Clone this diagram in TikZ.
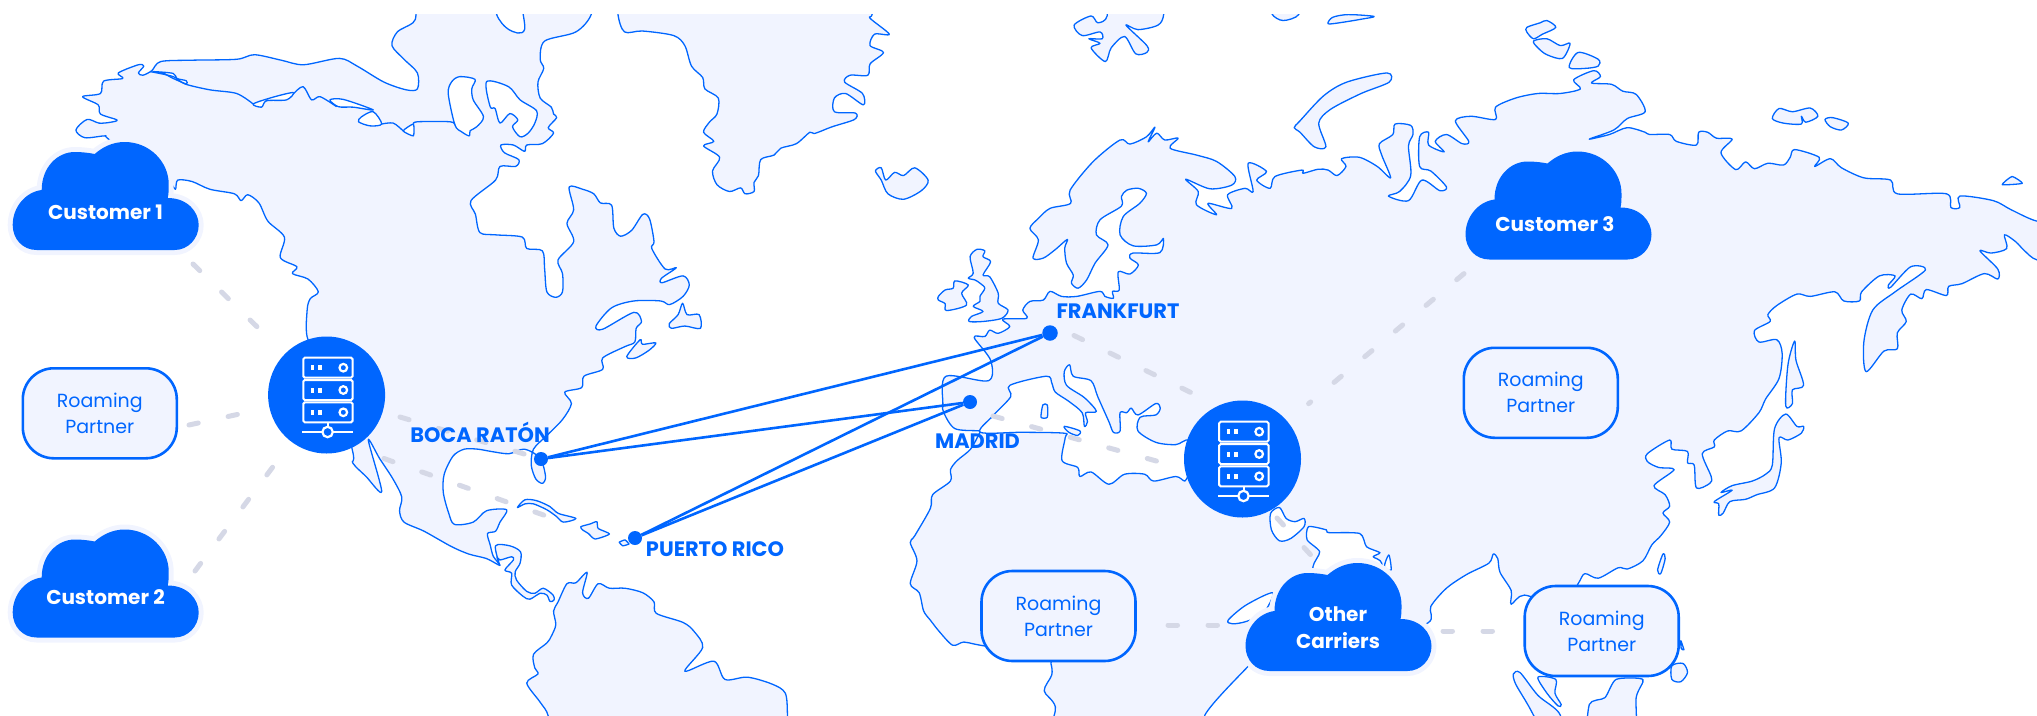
\documentclass[tikz,border=0pt]{standalone}
\usepackage{xcolor}
\usepackage{fontspec}
\usepackage{tikz}
\usetikzlibrary{backgrounds}
\setmainfont{Poppins}
\definecolor{azul}{HTML}{0066FF}
\definecolor{tierra}{HTML}{F1F4FF}
\definecolor{gris}{HTML}{D5D8E6}
\tikzset{
  costa/.style={draw=azul,line width=1.3pt,fill=tierra,line join=round},
  lago/.style={draw=azul,line width=1.3pt,fill=white,line join=round},
  orilla/.style={draw=azul,line width=1.3pt,line join=round},
  enlace/.style={draw=gris,line width=5pt,line cap=round,dash pattern=on 9.5pt off 30.5pt},
  ruta/.style={draw=azul,line width=2.6pt},
  punto/.style={circle,fill=azul,inner sep=0pt,minimum size=14pt},
  ciudad/.style={text=azul,font=\fontsize{20.9}{25}\selectfont\bfseries,inner sep=0pt},
  socio/.style={draw=azul,line width=2.6pt,fill=tierra,rounded corners=31pt,minimum width=154pt,minimum height=90pt,
    align=center,text=azul,inner sep=0pt,font=\fontsize{19}{26}\selectfont},
  nubetxt/.style={align=center,text=white,inner sep=0pt,font=\fontsize{20}{27}\selectfont\bfseries},
  centro/.style={circle,fill=azul,inner sep=0pt,minimum size=117pt},
  nube/.pic={
    \path[fill=azul,preaction={draw=tierra,line width=10pt}]
      (24,108) .. controls (10,108) and (0,97) .. (0,83) .. controls (0,65) and (13,50) .. (29,48)
      .. controls (29,25) and (45,10) .. (62,10) .. controls (70,10) and (77,11) .. (82,12)
      .. controls (90,5) and (100,0) .. (112,0) .. controls (137,0) and (156,20) .. (156,42)
      .. controls (156,48) and (156,52) .. (155,56) .. controls (175,56) and (186,70) .. (186,83)
      .. controls (186,97) and (175,108) .. (162,108) -- cycle;
  },
  servidor/.pic={
    \foreach \y in {-37.3,-15,7.3}{
      \draw[white,line width=2pt,rounded corners=1.5pt] (-23.3,\y) rectangle (26,\y+20);
      \fill[white] (-16,\y+7.5) rectangle (-12.5,\y+12.5);
      \fill[white] (-8.5,\y+7.5) rectangle (-5,\y+12.5);
      \draw[white,line width=2.2pt] (16.7,\y+10) circle (3.8);
    }
    \draw[white,line width=2pt] (1,27.3) -- (1,32);
    \draw[white,line width=2.2pt] (-24.3,36.7) -- (26.7,36.7);
    \draw[white,line width=2.2pt,fill=azul] (1,37) circle (5.2);
  }
}

\begin{document}
\begin{tikzpicture}[x=1pt,y=-1pt]
\useasboundingbox (0,0) rectangle (2037,715);
%Hubs and dots
\node[centro] (hub1) at (326.6,395) {};
\node[centro] (hub2) at (1242.5,459) {};
\pic at (hub1) {servidor};
\pic at (hub2) {servidor};
\node[punto] (boca) at (541,459) {};
\node[punto] (rico) at (635,538) {};
\node[punto,minimum size=15.5pt] (frankfurt) at (1050,333) {};
\node[punto] (madrid) at (970,402) {};
%Clouds
\pic at (12.7,142) {nube};
\pic at (12.7,529.5) {nube};
\pic at (1465.5,151.5) {nube};
\pic at (1245.5,563) {nube};
\node[nubetxt] (cust1) at (105.5,212) {Customer 1};
\node[nubetxt] (cust2) at (105.5,597) {Customer 2};
\node[nubetxt] (cust3) at (1555,224) {Customer 3};
\node[nubetxt] (carriers) at (1338,627.5) {Other\\Carriers};
%Roaming boxes
\node[socio] (roam1) at (99.8,413.3) {Roaming\\Partner};
\node[socio] (roam2) at (1540.8,392.8) {Roaming\\Partner};
\node[socio] (roam3) at (1058.5,616) {Roaming\\Partner};
\node[socio] (roam4) at (1601.7,631) {Roaming\\Partner};
%Routes
\draw[ruta] (boca) -- (frankfurt);
\draw[ruta] (boca) -- (madrid);
\draw[ruta] (rico) -- (frankfurt);
\draw[ruta] (rico) -- (madrid);
%Text
\node[ciudad] (lboca) at (480,432) {BOCA RATÓN};
\node[ciudad] (lrico) at (715,549.5) {PUERTO RICO};
\node[ciudad] (lfrank) at (1118,311.5) {FRANKFURT};
\node[ciudad] (lmadrid) at (977.5,441) {MADRID};
%Map
\begin{scope}[on background layer,x=0.44643pt,y=-0.45600pt]
\clip (0,30.7) rectangle (4563,1568);
%North America
\draw[costa] plot[smooth cycle,tension=.5] coordinates {(243,305) (235,298) (190,302) (170,285) (195,262) (222,270) (248,268) (262,263) (225,250) (220,230) (185,212) (225,205) (232,178) (275,172) (265,160) (310,142) (322,145) (310,160) (320,165) (340,155) (360,135) (430,132) (530,130) (570,120) (630,132) (680,142) (760,128) (800,145) (860,180) (910,197) (935,195) (935,160) (905,130) (878,100) (890,70) (925,50) (932,30) (932,-40) (1110,-40) (1112,30) (1140,65) (1175,65) (1175,-40) (1328,-40) (1325,30) (1290,70) (1220,90) (1210,130) (1218,150) (1205,180) (1210,215) (1235,235) (1240,250) (1247,258) (1228,280) (1240,292) (1215,315) (1180,318) (1175,332) (1150,318) (1122,318) (1130,335) (1162,350) (1155,365) (1120,365) (1110,395) (1055,440) (1065,470) (1075,510) (1110,515) (1170,520) (1180,545) (1215,550) (1220,590) (1225,640) (1245,652) (1260,640) (1260,600) (1250,570) (1285,530) (1270,490) (1285,460) (1275,410) (1305,415) (1330,425) (1345,445) (1370,450) (1375,500) (1390,518) (1415,505) (1440,470) (1455,480) (1465,530) (1460,545) (1490,590) (1515,587) (1482,610) (1483,620) (1530,605) (1544,625) (1530,650) (1500,668) (1480,660) (1420,660) (1370,675) (1335,715) (1350,722) (1420,685) (1437,705) (1425,720) (1422,750) (1400,760) (1350,785) (1350,810) (1308,825) (1303,850) (1265,860) (1280,885) (1260,920) (1225,955) (1195,985) (1190,1020) (1200,1050) (1215,1060) (1222,1045) (1210,1005) (1175,985) (1140,995) (1100,990) (1070,985) (1040,985) (1015,1000) (995,1040) (993,1080) (1005,1125) (1018,1150) (1060,1145) (1090,1120) (1135,1118) (1120,1145) (1110,1165) (1092,1170) (1098,1195) (1105,1220) (1120,1240) (1090,1225) (1050,1215) (1010,1198) (950,1165) (905,1145) (895,1120) (900,1090) (880,1050) (850,1005) (825,965) (855,1078) (820,1045) (790,1015) (790,990) (740,800) (690,745) (688,680) (695,655) (713,640) (690,612) (655,600) (665,585) (628,565) (637,520) (600,485) (580,445) (555,427) (540,440) (525,425) (470,415) (430,398) (398,395) (393,415) (380,400) (340,380)};
\draw[lago] plot[smooth cycle,tension=.5] coordinates {(343,157) (388,161) (396,172) (417,177) (417,184) (388,172) (366,161)};
\draw[lago] plot[smooth cycle,tension=.5] coordinates {(567,228) (612,213) (657,203) (642,219) (597,221) (586,235)};
\draw[lago] plot[smooth cycle,tension=.5] coordinates {(739,219) (769,218) (836,241) (791,235) (758,234)};
\draw[lago] plot[smooth cycle,tension=.5] coordinates {(836,245) (855,272) (829,276) (803,267) (810,256)};
\draw[lago] plot[smooth cycle,tension=.3] coordinates {(903,287) (926,272) (926,298)};
\draw[lago] plot[smooth cycle,tension=.5] coordinates {(1019,274) (1004,205) (1012,179) (1030,168) (1064,174) (1057,194) (1060,219) (1083,256) (1068,278) (1053,287) (1051,298) (1034,289)};
\draw[lago] plot[smooth cycle,tension=.5] coordinates {(1090,179) (1139,190) (1165,219) (1202,243) (1198,270) (1183,292) (1165,300) (1148,278) (1160,263) (1142,249) (1120,270) (1109,238) (1098,234)};
\draw[orilla] plot[smooth,tension=.5] coordinates {(336,157) (388,168) (414,184) (470,197) (530,205) (567,228)};
\draw[orilla] plot[smooth,tension=.5] coordinates {(657,206) (679,190) (698,219) (717,212) (754,234)};
\draw[orilla] plot[smooth,tension=.5] coordinates {(855,272) (881,270) (903,287)};
\draw[orilla] plot[smooth,tension=.5] coordinates {(926,272) (935,267) (1008,267) (1019,274)};
%Central and South America, islands
\draw[costa] plot[smooth cycle,tension=.5] coordinates {(1119,1239) (1113,1221) (1120,1228) (1146,1221) (1150,1228) (1131,1250) (1146,1257) (1146,1283) (1172,1308) (1187,1314) (1210,1301) (1225,1305) (1232,1319) (1241,1316) (1239,1305) (1217,1290) (1198,1301) (1180,1297) (1157,1272) (1154,1254) (1165,1235) (1166,1210) (1142,1197) (1110,1197)};
\draw[costa] plot[smooth cycle,tension=.5] coordinates {(1235,1640) (1228,1570) (1210,1540) (1180,1498) (1205,1478) (1198,1465) (1195,1435) (1225,1410) (1235,1395) (1245,1370) (1240,1340) (1250,1320) (1270,1280) (1290,1278) (1315,1255) (1305,1300) (1318,1312) (1340,1280) (1365,1290) (1400,1290) (1440,1300) (1465,1320) (1470,1345) (1530,1365) (1555,1385) (1574,1420) (1534,1472) (1599,1450) (1624,1490) (1674,1485) (1729,1500) (1759,1520) (1764,1570) (1764,1640)};
\draw[costa] plot[smooth cycle,tension=.5] coordinates {(1159,1113) (1176,1096) (1202,1098) (1232,1111) (1251,1126) (1290,1137) (1262,1145) (1247,1133) (1225,1118) (1195,1105) (1176,1105)};
\draw[costa] plot[smooth cycle,tension=.4] coordinates {(1301,1155) (1322,1149) (1337,1144) (1340,1159) (1365,1171) (1333,1182) (1318,1170) (1305,1162)};
\draw[costa] plot[smooth cycle,tension=.2] coordinates {(1387,1189) (1400,1184) (1409,1193) (1395,1197)};
\draw[costa] plot[smooth cycle,tension=.5] coordinates {(1504,720) (1499,710) (1519,690) (1529,665) (1539,690) (1566,690) (1569,720) (1534,715)};
\draw[costa] plot[smooth cycle,tension=.5] coordinates {(1404,782) (1434,745) (1439,755) (1469,752) (1454,768) (1424,785)};
%Greenland, Iceland, Svalbard
\draw[costa] plot[smooth cycle,tension=.5] coordinates {(1384,-40) (1384,30) (1399,70) (1439,68) (1509,78) (1534,100) (1549,145) (1574,170) (1579,195) (1609,215) (1606,250) (1589,268) (1576,290) (1599,310) (1576,320) (1612,345) (1596,375) (1606,405) (1634,420) (1659,412) (1669,425) (1689,420) (1689,400) (1699,385) (1704,350) (1734,340) (1749,325) (1784,315) (1814,290) (1824,293) (1864,278) (1914,262) (1916,248) (1869,245) (1869,215) (1894,205) (1934,230) (1932,205) (1892,180) (1904,165) (1944,165) (1949,140) (1979,115) (1949,100) (1959,75) (1992,75) (1949,40) (1954,30) (1954,-40)};
\draw[costa] plot[smooth cycle,tension=.5] coordinates {(1961,375) (1974,368) (1984,395) (2004,378) (2024,385) (2049,368) (2079,395) (2064,418) (2024,437) (1989,425) (1974,395)};
\draw[costa] plot[smooth cycle,tension=.5] coordinates {(2406,55) (2444,35) (2459,50) (2480,35) (2480,-40) (2609,-40) (2607,30) (2594,55) (2549,65) (2522,55) (2569,100) (2569,115) (2544,118) (2519,80) (2489,105) (2476,135) (2444,105) (2464,95) (2439,85) (2469,85) (2464,70) (2424,78)};
\draw[costa] plot[smooth cycle,tension=.5] coordinates {(2849,-10) (2849,30) (2874,45) (2909,32) (2909,-10)};
\draw[costa] plot[smooth cycle,tension=.5] coordinates {(2975,52) (2985,38) (3020,32) (3078,36) (3050,42) (3000,50)};
%Eurasia and Africa
\draw[costa] plot[smooth cycle,tension=.5] coordinates {(2374,1640) (2364,1550) (2339,1515) (2356,1480) (2354,1455) (2344,1440) (2196,1415) (2159,1408) (2134,1415) (2104,1385) (2084,1360) (2069,1340) (2059,1300) (2039,1280) (2054,1230) (2039,1190) (2049,1175) (2084,1115) (2089,1085) (2129,1055) (2129,1030) (2144,1010) (2174,985) (2194,950) (2194,945) (2139,940) (2114,905) (2112,885) (2119,825) (2214,835) (2219,790) (2182,740) (2206,738) (2217,724) (2236,731) (2262,716) (2246,700) (2300,698) (2291,680) (2307,661) (2337,658) (2352,639) (2378,650) (2412,650) (2464,639) (2475,650) (2494,654) (2492,639) (2507,636) (2505,596) (2531,601) (2550,581) (2531,566) (2538,555) (2598,554) (2606,523) (2591,537) (2538,539) (2509,515) (2516,475) (2553,446) (2568,424) (2550,413) (2524,417) (2512,431) (2512,452) (2464,482) (2456,515) (2482,537) (2453,577) (2434,614) (2415,632) (2400,621) (2404,603) (2389,577) (2385,544) (2391,525) (2363,548) (2337,566) (2314,566) (2326,526) (2307,501) (2326,479) (2352,457) (2398,446) (2397,417) (2449,354) (2509,307) (2531,316) (2568,300) (2587,279) (2572,311) (2591,292) (2609,307) (2639,303) (2621,325) (2680,340) (2725,354) (2766,387) (2759,406) (2710,414) (2656,393) (2684,420) (2680,449) (2725,471) (2706,446) (2759,457) (2750,427) (2789,413) (2807,420) (2796,358) (2837,376) (2815,395) (2845,413) (2856,387) (2916,373) (2919,380) (2953,371) (2975,373) (2995,385) (3015,365) (3005,348) (3045,345) (3085,365) (3115,390) (3095,340) (3090,315) (3120,295) (3125,272) (3160,275) (3165,295) (3155,320) (3160,385) (3135,420) (3110,430) (3155,440) (3185,395) (3225,418) (3240,410) (3205,375) (3180,365) (3180,300) (3200,290) (3200,318) (3235,333) (3215,310) (3240,295) (3275,315) (3290,310) (3260,265) (3295,255) (3350,262) (3350,235) (3395,215) (3445,205) (3495,205) (3540,195) (3525,175) (3570,155) (3585,168) (3565,182) (3610,185) (3635,200) (3665,207) (3685,245) (3645,260) (3615,285) (3560,305) (3605,295) (3645,280) (3685,290) (3695,295) (3740,295) (3755,310) (3800,318) (3805,290) (3825,290) (3845,303) (3880,305) (3855,335) (3888,372) (3910,355) (3930,370) (3960,358) (3995,362) (4010,345) (4020,328) (4075,345) (4065,365) (4100,348) (4125,368) (4175,390) (4235,395) (4250,425) (4360,425) (4370,455) (4390,455) (4390,430) (4465,440) (4505,460) (4563,485) (4620,485) (4620,570) (4563,570) (4535,550) (4515,530) (4490,515) (4495,545) (4460,555) (4435,550) (4475,590) (4475,612) (4445,600) (4395,622) (4365,628) (4360,648) (4315,635) (4305,655) (4280,645) (4260,680) (4270,705) (4250,730) (4250,765) (4220,770) (4180,815) (4175,750) (4195,680) (4245,640) (4313,592) (4280,585) (4235,630) (4230,625) (4245,605) (4210,605) (4170,640) (4165,660) (4130,660) (4110,640) (4055,650) (4025,645) (3980,670) (3960,690) (3965,705) (3930,725) (3940,750) (3980,745) (3992,775) (3985,830) (3955,875) (3940,905) (3900,945) (3870,945) (3840,965) (3840,980) (3813,995) (3833,1045) (3830,1060) (3800,1070) (3795,1020) (3780,1015) (3780,990) (3745,985) (3740,965) (3690,995) (3690,1012) (3715,1025) (3750,1030) (3705,1065) (3730,1085) (3740,1110) (3725,1125) (3740,1145) (3720,1175) (3700,1195) (3680,1230) (3645,1248) (3625,1245) (3580,1268) (3550,1258) (3535,1280) (3500,1330) (3415,1305) (3385,1325) (3385,1295) (3360,1255) (3355,1225) (3345,1215) (3335,1235) (3285,1260) (3240,1290) (3205,1330) (3200,1365) (3100,1400) (2850,1410) (2799,1458) (2699,1568) (2699,1640)};
%Mediterranean and gulfs
\draw[lago] plot[smooth cycle,tension=.5] coordinates {(2196,948) (2224,912) (2264,870) (2262,845) (2344,825) (2356,840) (2364,860) (2394,880) (2424,905) (2429,935) (2436,925) (2432,905) (2456,902) (2429,872) (2389,845) (2384,815) (2396,800) (2404,825) (2444,835) (2459,870) (2484,925) (2494,948) (2509,945) (2509,905) (2524,905) (2534,895) (2549,910) (2589,885) (2599,895) (2589,910) (2554,915) (2549,945) (2589,970) (2634,975) (2664,965) (2700,1000) (2664,1040) (2654,1055) (2634,1045) (2584,1055) (2564,1040) (2519,1040) (2484,1062) (2444,1035) (2419,1045) (2414,1025) (2379,1010) (2386,960) (2384,950) (2290,948)};
\draw[costa] plot[smooth cycle,tension=.4] coordinates {(2332,915) (2336,888) (2346,888) (2346,915)};
\draw[costa] plot[smooth cycle,tension=.5] coordinates {(2384,935) (2419,945) (2414,955) (2394,948)};
\draw[lago] plot[smooth cycle,tension=.5] coordinates {(2846,1126) (2848,1162) (2866,1186) (2891,1181) (2921,1155) (2921,1137) (2901,1144) (2881,1137) (2866,1113)};
\draw[lago] plot[smooth cycle,tension=.4] coordinates {(2931,1155) (2971,1162) (2976,1168) (3046,1170) (3061,1199) (3091,1212) (3076,1221) (3095,1235) (3090,1300) (2950,1300) (2941,1243) (2956,1210) (2928,1184)};
\draw[lago] plot[smooth cycle,tension=.5] coordinates {(3111,1217) (3116,1250) (3101,1243)};
\draw[lago] plot[smooth cycle,tension=.5] coordinates {(2851,1300) (2791,1327) (2751,1360) (2761,1368) (2791,1363) (2830,1345)};
%Britain and Ireland
\draw[costa] plot[smooth cycle,tension=.5] coordinates {(2171,705) (2176,694) (2202,683) (2180,672) (2195,661) (2195,650) (2206,632) (2195,621) (2184,614) (2169,610) (2180,599) (2173,563) (2188,547) (2206,550) (2202,563) (2219,574) (2202,603) (2217,607) (2236,643) (2236,665) (2258,680) (2244,698) (2202,705)};
\draw[costa] plot[smooth cycle,tension=.5] coordinates {(2102,650) (2117,636) (2135,632) (2139,616) (2169,625) (2154,643) (2165,669) (2120,681) (2117,666) (2102,658)};
%Arctic and Pacific islands
\draw[costa] plot[smooth cycle,tension=.5] coordinates {(2899,280) (2912,265) (2965,210) (3017,180) (3107,160) (3112,180) (3049,205) (2980,240) (2954,270) (2970,322) (2944,322) (2912,290)};
\draw[costa] plot[smooth cycle,tension=.5] coordinates {(3420,60) (3450,50) (3465,45) (3485,60) (3455,75) (3435,85) (3420,70)};
\draw[costa] plot[smooth cycle,tension=.5] coordinates {(3435,90) (3465,85) (3495,100) (3517,95) (3500,128) (3465,120) (3445,105)};
\draw[costa] plot[smooth cycle,tension=.5] coordinates {(3515,148) (3535,115) (3580,130) (3580,145) (3550,150)};
\draw[costa] plot[smooth cycle,tension=.5] coordinates {(3970,260) (3985,238) (4015,245) (4055,237) (4072,255) (4045,268) (4035,255) (4035,272) (3995,270)};
\draw[costa] plot[smooth cycle,tension=.5] coordinates {(4088,262) (4105,258) (4140,270) (4125,285) (4100,278)};
\draw[costa] plot[smooth cycle,tension=.3] coordinates {(4485,405) (4507,387) (4530,402)};
\draw[costa] plot[smooth cycle,tension=.5] coordinates {(4000,890) (4005,800) (4020,748) (4023,790) (4040,845) (4015,855) (4015,885)};
\draw[costa] plot[smooth cycle,tension=.5] coordinates {(3970,1020) (3975,940) (4000,908) (4025,935) (4040,935) (4035,950) (4005,965) (3985,960) (3990,1015) (3975,1070) (3935,1085) (3910,1095) (3875,1100) (3860,1125) (3850,1130) (3850,1105) (3840,1100) (3880,1075) (3855,1080) (3880,1065) (3925,1055) (3955,1040)};
\draw[costa] plot[smooth cycle,tension=.5] coordinates {(3713,1250) (3725,1215) (3730,1225) (3720,1258)};
\draw[costa] plot[smooth cycle,tension=.5] coordinates {(3390,1478) (3405,1475) (3445,1525) (3495,1568) (3495,1640) (3475,1640) (3425,1550) (3395,1500)};
\draw[costa] plot[smooth cycle,tension=.5] coordinates {(3445,1485) (3485,1490) (3483,1520) (3497,1545) (3490,1548) (3465,1520)};
\draw[costa] plot[smooth cycle,tension=.4] coordinates {(3560,1545) (3595,1530) (3620,1490) (3680,1490) (3665,1530) (3660,1640) (3560,1640)};
\draw[costa] plot[smooth cycle,tension=.5] coordinates {(3745,1460) (3770,1455) (3780,1475) (3765,1495) (3745,1490)};
\draw[costa] plot[smooth cycle,tension=.4] coordinates {(3765,1405) (3772,1425) (3766,1422)};
\end{scope}
%Links
\begin{scope}[on background layer]
\coordinate (l1) at (193,264);
\coordinate (l2) at (189,425);
\coordinate (l3) at (195,571);
\coordinate (l4) at (400,417);
\coordinate (l5a) at (384,458.5);
\coordinate (l5b) at (552,518);
\coordinate (l6a) at (1074,335.5);
\coordinate (l6b) at (1197,395.5);
\coordinate (l7a) at (993,416);
\coordinate (l7b) at (1160,462);
\coordinate (l8) at (1464,273.6);
\coordinate (l9a) at (1277,518);
\coordinate (l9b) at (1320,565);
\coordinate (l10) at (1168,625);
\coordinate (l11) at (1443,631);
\draw[enlace,shorten >=30pt] (l1) -- (hub1);
\draw[enlace,shorten >=8pt] (l2) -- (hub1);
\draw[enlace,shorten >=5pt] (l3) -- (hub1);
\draw[enlace] (l4) -- (boca);
\draw[enlace] (l5a) -- (l5b);
\draw[enlace] (l6a) -- (l6b);
\draw[enlace] (l7a) -- (l7b);
\draw[enlace,shorten >=27.5pt] (l8) -- (hub2);
\draw[enlace] (l9a) -- (l9b);
\draw[enlace,shorten >=67pt] (l10) -- (l10 -| carriers.west);
\draw[enlace,shorten >=5pt] (l11) -- (l11 -| roam4.west);
\end{scope}
\end{tikzpicture}
\end{document}
